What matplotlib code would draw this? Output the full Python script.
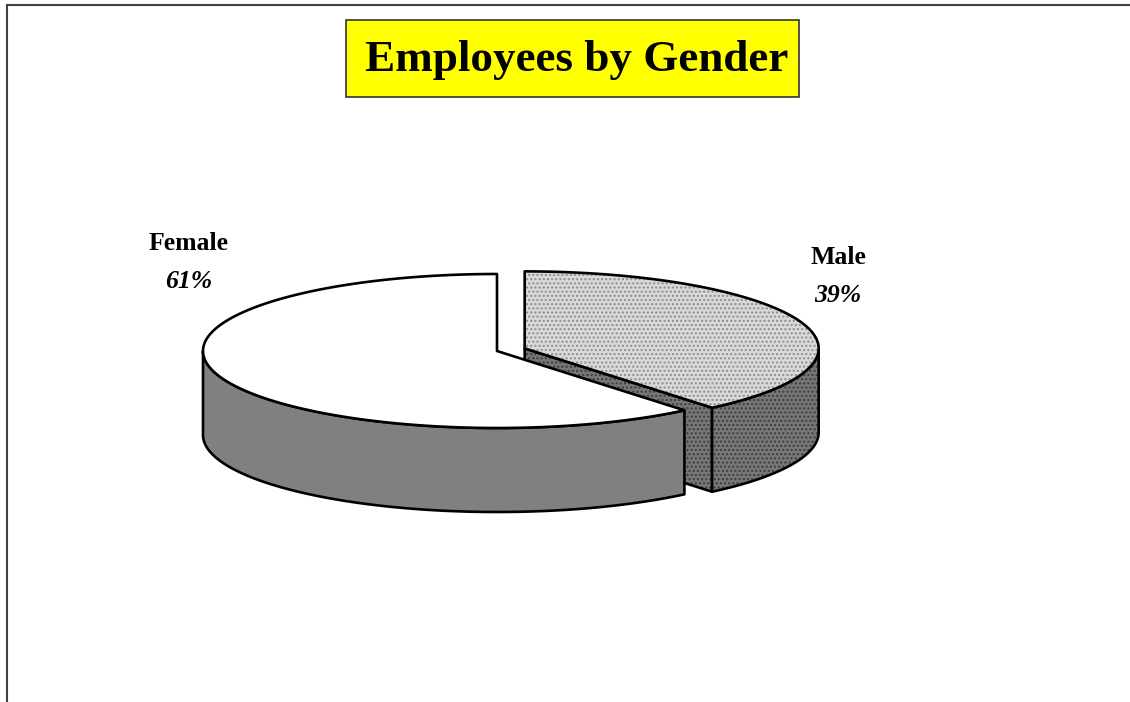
import numpy as np
import matplotlib
matplotlib.use("Agg")
import matplotlib.pyplot as plt
from matplotlib.patches import Polygon, FancyBboxPatch
from matplotlib.lines import Line2D

# ─── Data ─────────────────────────────────────────────────────────────────────
categories = ["Male", "Female"]          # clockwise from 12 o'clock
shares     = [39, 61]                    # percent
explode    = [0.1, 0.0]
title      = "Employees by Gender"

# ─── Styling / layout (pixel space of a 1130x702 canvas) ─────────────────────
W, H = 1130, 702
CX, CY = 497, 351       # pie centre
RX, RY = 294, 77        # top ellipse radii
DEPTH  = 84             # pie thickness
top_colors  = {"Male": "#d9d9d9", "Female": "#ffffff"}
side_colors = {"Male": "#777777", "Female": "#808080"}
hatch_cols  = {"Male": ("#8c8c8c", "#3c3c3c"), "Female": None}
label_pos   = {"Female": (189, 244), "Male": (838, 257)}

plt.rcParams["hatch.linewidth"] = 1.0
serif = ["Liberation Serif", "DejaVu Serif"]

fig = plt.figure(figsize=(W / 100, H / 100), dpi=100)
ax = fig.add_axes([0, 0, 1, 1])
ax.set_xlim(0, W)
ax.set_ylim(H, 0)
ax.axis("off")

z_counter = [2]


def pt(t, c, z=0.0):
    r = np.radians(t)
    return c[0] + RX * np.cos(r), c[1] - RY * np.sin(r) + z


def face(xy, fc, hatch=None, lw=1.9):
    z = z_counter[0]
    z_counter[0] += 1
    ax.add_patch(Polygon(xy, closed=True, facecolor=fc, edgecolor="none", zorder=z))
    if hatch:
        ax.add_patch(Polygon(xy, closed=True, facecolor="none", edgecolor=hatch,
                             linewidth=0, hatch="....", zorder=z + 0.1))
    ax.add_patch(Polygon(xy, closed=True, facecolor="none", edgecolor="black",
                         linewidth=lw, joinstyle="round", zorder=z + 0.2))


# build slices
slices = []
start = 90.0
for name, v, ex in zip(categories, shares, explode):
    t0 = start
    t1 = start - v * 3.6
    mid = np.radians((t0 + t1) / 2)
    c = (CX + ex * RX * np.cos(mid), CY - ex * RY * np.sin(mid))
    slices.append((name, v, t0, t1, c, np.sin(mid)))
    start = t1

# back to front
for name, v, t0, t1, c, depth_key in sorted(slices, key=lambda s: -s[5]):
    hc = hatch_cols[name]
    side_h = hc[1] if hc else None
    top_h = hc[0] if hc else None
    # radial faces
    for t, sgn in ((t0, -1), (t1, 1)):
        if sgn * np.cos(np.radians(t)) > 1e-6:
            p = pt(t, c)
            xy = [c, p, (p[0], p[1] + DEPTH), (c[0], c[1] + DEPTH)]
            face(xy, side_colors[name], side_h)
    # outer wall (front half only)
    ts = np.linspace(t1, t0, 400)
    vis = np.sin(np.radians(ts)) < 0
    if vis.any():
        idx = np.where(vis)[0]
        groups = np.split(idx, np.where(np.diff(idx) != 1)[0] + 1)
        for g in groups:
            tt = ts[g]
            upper = [pt(t, c) for t in tt]
            lower = [pt(t, c, DEPTH) for t in tt[::-1]]
            face(upper + lower, side_colors[name], side_h)
    # top
    tt = np.linspace(t0, t1, 400)
    xy = [c] + [pt(t, c) for t in tt]
    face(xy, top_colors[name], top_h)

# labels
for name, v in zip(categories, shares):
    x, y = label_pos[name]
    ax.text(x, y, name, ha="center", va="center", fontsize=18.5,
            fontweight="bold", family=serif, zorder=20)
    ax.text(x, y + 38, f"{v}%", ha="center", va="center", fontsize=18.5,
            fontweight="bold", style="italic", family=serif, zorder=20)

# title box
ax.add_patch(FancyBboxPatch((346, 20), 453, 77, boxstyle="square,pad=0",
                            facecolor="#ffff00", edgecolor="#333333", linewidth=1.2,
                            zorder=20))
ax.text(577, 60, title, ha="center", va="center", fontsize=32.5, fontweight="bold",
        family=serif, zorder=21)

# chart area frame (top and left visible)
fig.add_artist(Line2D([6.5 / W, 1], [1 - 4.5 / H, 1 - 4.5 / H], color="#404040", lw=1.5))
fig.add_artist(Line2D([6.5 / W, 6.5 / W], [0, 1 - 4.5 / H], color="#404040", lw=1.5))

fig.savefig("out.png", dpi=100)
